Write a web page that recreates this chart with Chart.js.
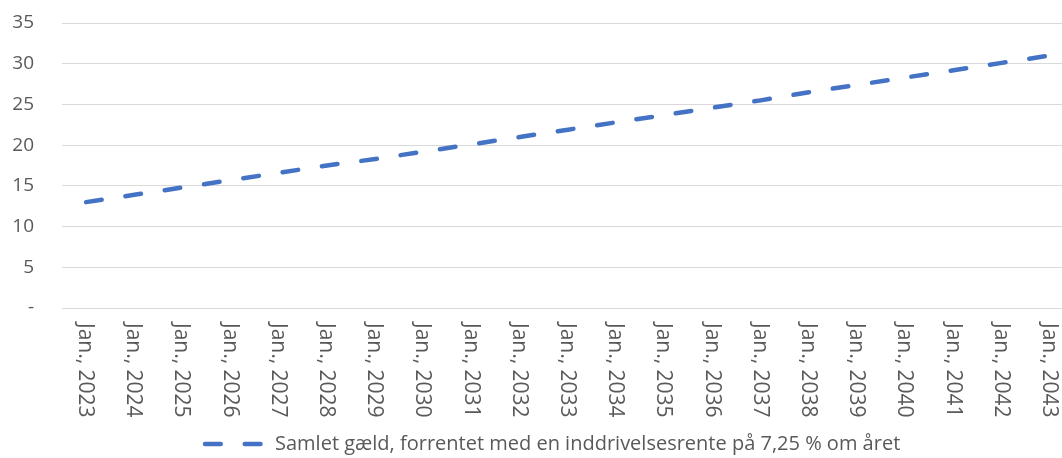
<!DOCTYPE html>
<html>
<head>
<meta charset="utf-8">
<title>Samlet gæld</title>
<script src="https://cdn.jsdelivr.net/npm/chart.js@4.4.1/dist/chart.umd.min.js"></script>
<style>
    html, body { margin: 0; padding: 0; background: #fff; overflow: hidden; }
    body { width: 1062px; height: 458px; }
    .chart-box { position: relative; width: 1076px; height: 458px; }
</style>
</head>
<body>
<div class="chart-box"><canvas id="debtChart"></canvas></div>
<script>
const categories = [
    'Jan., 2023', 'Jan., 2024', 'Jan., 2025', 'Jan., 2026', 'Jan., 2027',
    'Jan., 2028', 'Jan., 2029', 'Jan., 2030', 'Jan., 2031', 'Jan., 2032',
    'Jan., 2033', 'Jan., 2034', 'Jan., 2035', 'Jan., 2036', 'Jan., 2037',
    'Jan., 2038', 'Jan., 2039', 'Jan., 2040', 'Jan., 2041', 'Jan., 2042',
    'Jan., 2043'
];
const debtValues = [
    13.0, 13.9, 14.8, 15.7, 16.6, 17.5, 18.3, 19.2, 20.1, 21.0,
    21.9, 22.8, 23.7, 24.6, 25.5, 26.5, 27.4, 28.3, 29.2, 30.1,
    31.0
];
const yTicks = [0, 5, 10, 15, 20, 25, 30, 35];
const seriesLabel = 'Samlet gæld, forrentet med en inddrivelsesrente på 7,25 % om året';

const lineColor = '#4472C4';
const textColor = '#595959';
const gridColor = '#d9d9d9';
const fontFamily = '"Open Sans", "Noto Sans", sans-serif';

// x labels read top-to-bottom in the original, Chart.js only rotates the other way
const rotatedXLabels = {
    id: 'rotatedXLabels',
    afterDraw(chart) {
        const xs = chart.scales.x;
        const ctx = chart.ctx;
        ctx.save();
        ctx.font = '21px ' + fontFamily;
        ctx.fillStyle = textColor;
        ctx.textAlign = 'left';
        ctx.textBaseline = 'middle';
        xs.ticks.forEach((tick, i) => {
            ctx.save();
            ctx.translate(xs.getPixelForTick(i) - 1, chart.chartArea.bottom + 15);
            ctx.rotate(Math.PI / 2);
            ctx.fillText(xs.getLabelForValue(tick.value), 0, 0);
            ctx.restore();
        });
        ctx.restore();
    }
};

const bottomLegend = {
    id: 'bottomLegend',
    afterDraw(chart) {
        const ds = chart.data.datasets[0];
        const ctx = chart.ctx;
        const x0 = 205, y0 = 444;
        ctx.save();
        ctx.strokeStyle = ds.borderColor;
        ctx.lineWidth = ds.borderWidth;
        ctx.lineCap = 'round';
        ctx.setLineDash(ds.borderDash);
        ctx.beginPath();
        ctx.moveTo(x0, y0);
        ctx.lineTo(x0 + 56, y0);
        ctx.stroke();
        ctx.setLineDash([]);
        ctx.font = '20px ' + fontFamily;
        ctx.fillStyle = textColor;
        ctx.textAlign = 'left';
        ctx.textBaseline = 'middle';
        ctx.fillText(ds.label, x0 + 70, y0);
        ctx.restore();
    }
};

new Chart(document.getElementById('debtChart'), {
    type: 'line',
    data: {
        labels: categories,
        datasets: [{
            label: seriesLabel,
            data: debtValues,
            borderColor: lineColor,
            backgroundColor: lineColor,
            borderWidth: 4.5,
            borderDash: [15.75, 24],
            borderCapStyle: 'round',
            pointRadius: 0,
            tension: 0,
            fill: false
        }]
    },
    options: {
        responsive: true,
        maintainAspectRatio: false,
        animation: false,
        layout: {
            padding: { top: 23, left: 12, right: 2, bottom: 0 }
        },
        scales: {
            x: {
                offset: true,
                grid: { display: false },
                border: { display: false },
                ticks: { display: false, autoSkip: false },
                afterFit: function(scale) {
                    scale.height = 150;
                    scale.paddingLeft = 0;
                    scale.paddingRight = 0;
                }
            },
            y: {
                min: 0,
                max: 35,
                afterBuildTicks: function(scale) {
                    scale.ticks = yTicks.map(v => ({ value: v }));
                },
                grid: { color: gridColor, lineWidth: 1, drawTicks: false },
                border: { display: false },
                ticks: {
                    color: textColor,
                    padding: 28,
                    font: { family: fontFamily, size: 19 },
                    callback: function(value) {
                        return value === 0 ? '-' : value;
                    }
                },
                afterFit: function(scale) {
                    scale.width = 50;
                    scale.paddingTop = 0;
                    scale.paddingBottom = 0;
                }
            }
        },
        plugins: {
            legend: { display: false },
            tooltip: { enabled: false }
        }
    },
    plugins: [rotatedXLabels, bottomLegend]
});
</script>
</body>
</html>
